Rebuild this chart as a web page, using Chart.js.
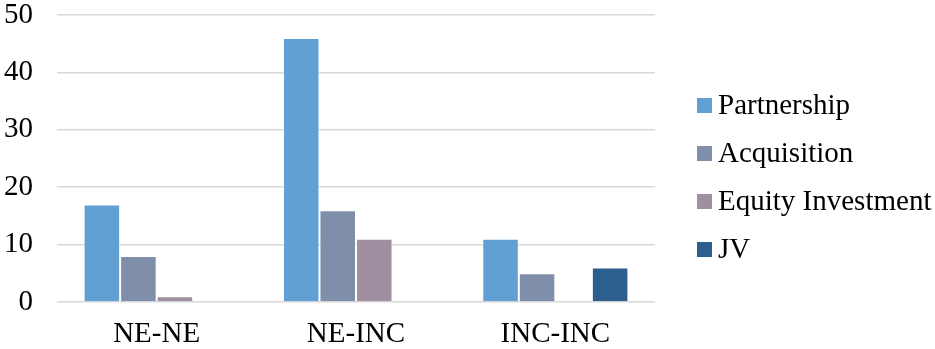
<!DOCTYPE html>
<html>
<head>
<meta charset="utf-8">
<script src="https://cdn.jsdelivr.net/npm/chart.js@4.4.1/dist/chart.umd.min.js"></script>
<style>
html,body{margin:0;padding:0;background:#fff;}
#wrap{width:935px;height:349px;position:relative;}
</style>
</head>
<body>
<div id="wrap"><canvas id="c" width="935" height="349"></canvas></div>
<script>
const categories = ["NE-NE", "NE-INC", "INC-INC"];
const seriesNames = ["Partnership", "Acquisition", "Equity Investment", "JV"];
const partnership = [17, 46, 11];
const acquisition = [8, 16, 5];
const equityInvestment = [1, 11, 0];
const jv = [0, 0, 6];
const yTicks = [0, 10, 20, 30, 40, 50];

const colors = ["#629FD3", "#7F8FAA", "#9F8FA0", "#2C5F8E"];
const values = [partnership, acquisition, equityInvestment, jv];

const fontFamily = "'Liberation Serif', 'Times New Roman', serif";
const font = {family: fontFamily, size: 29, lineHeight: 1};

const sideLegend = {
  id: 'sideLegend',
  afterDraw(chart) {
    const ctx = chart.ctx;
    ctx.save();
    ctx.font = "29px " + fontFamily;
    ctx.textBaseline = 'middle';
    ctx.textAlign = 'left';
    const x0 = 697, yStart = 105.5, step = 48;
    chart.data.datasets.forEach((ds, i) => {
      const cy = yStart + i * step;
      ctx.fillStyle = ds.backgroundColor;
      ctx.fillRect(x0, cy - 7.5, 15, 15);
      ctx.fillStyle = '#000';
      ctx.fillText(ds.label, x0 + 21, cy + 1);
    });
    ctx.restore();
  }
};

new Chart(document.getElementById('c'), {
  type: 'bar',
  data: {
    labels: categories,
    datasets: seriesNames.map((n, i) => ({
      label: n,
      data: values[i],
      backgroundColor: colors[i],
      borderColor: 'rgba(255,255,255,0.5)',
      borderWidth: 1,
      categoryPercentage: 0.733,
      barPercentage: 1.0
    }))
  },
  plugins: [sideLegend],
  options: {
    responsive: false,
    animation: false,
    layout: {padding: {top: 0, left: 4, right: 280, bottom: 0}},
    plugins: {
      legend: {display: false},
      tooltip: {enabled: false}
    },
    scales: {
      x: {
        grid: {display: false, drawTicks: false},
        border: {display: false},
        ticks: {font: font, color: '#000', padding: 18},
        afterFit: (ax) => { ax.paddingLeft = 0; ax.paddingRight = 0; ax.height = 47; }
      },
      y: {
        min: 0, max: 50,
        afterBuildTicks: (ax) => { ax.ticks = yTicks.map(v => ({value: v})); },
        grid: {color: '#D9D9D9', lineWidth: 1.5, drawTicks: false},
        border: {display: false},
        ticks: {font: font, color: '#000', padding: 24},
        afterFit: (ax) => { ax.paddingTop = 15; ax.paddingBottom = 14; ax.width = 53; }
      }
    }
  }
});
</script>
</body>
</html>
